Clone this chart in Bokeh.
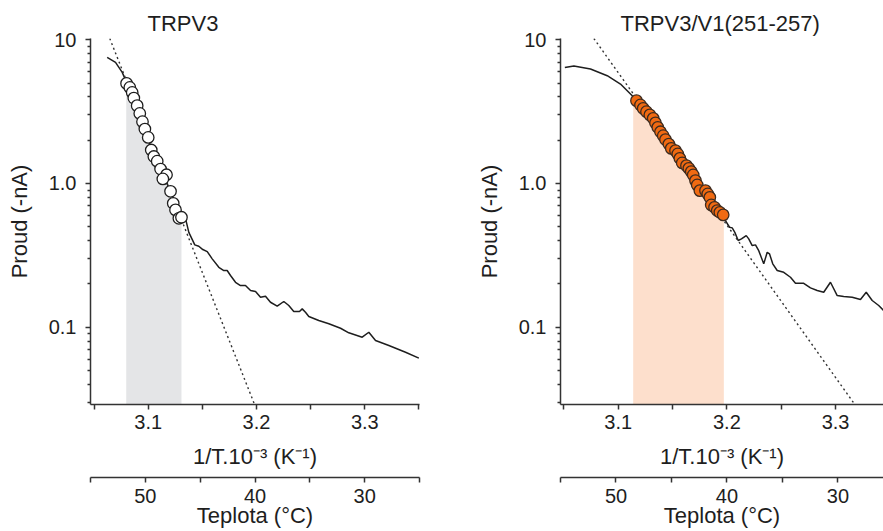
import numpy as np
from bokeh.plotting import figure
from bokeh.layouts import row
from bokeh.models import Range1d, LinearAxis, FixedTicker, CustomJSTickFormatter
from bokeh.embed import file_html
from bokeh.resources import INLINE

# ---------------- data ----------------
titles = ["TRPV3", "TRPV3/V1(251-257)"]
x_label = "1/T.10\u207b\u00b3 (K\u207b\u00b9)"
t_label = "Teplota (\u00b0C)"
y_label = "Proud (-nA)"

x_ticks = [3.1, 3.2, 3.3]
x_minor = [3.05, 3.15, 3.25, 3.35]
y_ticks = [0.1, 1.0, 10.0]
y_minor = [0.03, 0.04, 0.05, 0.06, 0.07, 0.08, 0.09,
           0.2, 0.3, 0.4, 0.5, 0.6, 0.7, 0.8, 0.9,
           2, 3, 4, 5, 6, 7, 8, 9]
t_ticks = [50, 40, 30]
t_minor = [55, 45, 35, 25]

# TRPV3 (left)
v3_trace_x = [3.0621, 3.0698, 3.0760, 3.0800, 3.0837, 3.0929, 3.1021, 3.1114, 3.1206, 3.1298,
              3.1338, 3.1375, 3.1430, 3.1467, 3.1504, 3.1545, 3.1591, 3.1652, 3.1698, 3.1729,
              3.1760, 3.1806, 3.1852, 3.1898, 3.1945, 3.1991, 3.2037, 3.2083, 3.2129, 3.2191,
              3.2252, 3.2298, 3.2344, 3.2397, 3.2422, 3.2452, 3.2483, 3.2575, 3.2668, 3.2776,
              3.2852, 3.2976, 3.3037, 3.3099, 3.3222, 3.3376, 3.3499]
v3_trace_y = [7.53, 6.95, 5.93, 5.05, 4.56, 3.06, 1.80, 1.27, 0.878, 0.579,
              0.598, 0.457, 0.374, 0.366, 0.347, 0.336, 0.299, 0.261, 0.248, 0.248,
              0.229, 0.2055, 0.195, 0.195, 0.1799, 0.177, 0.1616, 0.1642, 0.1492, 0.140,
              0.151, 0.1416, 0.1285, 0.1285, 0.1342, 0.1271, 0.1187, 0.1113, 0.1056, 0.0984,
              0.0914, 0.0852, 0.0923, 0.0808, 0.0746, 0.0670, 0.0609]
v3_pts_x = [3.0800, 3.0830, 3.0852, 3.0867, 3.0898, 3.0922, 3.0947, 3.0969, 3.1000, 3.1028,
            3.1052, 3.1083, 3.1114, 3.1169, 3.1135, 3.1206, 3.1231, 3.1252, 3.1283, 3.1307]
v3_pts_y = [4.97, 4.66, 4.30, 3.93, 3.48, 3.07, 2.69, 2.39, 2.09, 1.71,
            1.54, 1.43, 1.26, 1.15, 1.076, 0.882, 0.728, 0.655, 0.572, 0.582]
v3_fit_x = [3.0645, 3.1982]
v3_fit_y = [10.2, 0.029]
v3_shade = [3.0797, 3.1307]

# TRPV3/V1(251-257) (right)
ch_trace_x = [3.0509, 3.0592, 3.0745, 3.0899, 3.1021, 3.1129, 3.1297, 3.1481, 3.1665, 3.1849,
              3.1957, 3.1987, 3.2024, 3.2049, 3.2073, 3.2104, 3.2134, 3.2178, 3.2201, 3.2233,
              3.2263, 3.2293, 3.2339, 3.2371, 3.2392, 3.2422, 3.2463, 3.2523, 3.2585, 3.2631,
              3.2707, 3.2769, 3.2831, 3.2891, 3.2953, 3.3015, 3.3075, 3.3153, 3.3229, 3.3282,
              3.3337, 3.3397, 3.3443]
ch_trace_y = [6.42, 6.57, 6.26, 5.62, 4.92, 4.08, 3.01, 1.776, 1.209, 0.724,
              0.598, 0.552, 0.496, 0.491, 0.457, 0.401, 0.412, 0.434, 0.412, 0.370,
              0.374, 0.341, 0.276, 0.332, 0.324, 0.276, 0.248, 0.241, 0.2227, 0.2022,
              0.2022, 0.1879, 0.1799, 0.1751, 0.2055, 0.1661, 0.1634, 0.1616, 0.1558, 0.1751,
              0.1534, 0.1416, 0.1306]
ch_pts_x = [3.1168, 3.1205, 3.1230, 3.1260, 3.1291, 3.1322, 3.1343, 3.1364, 3.1389, 3.1414,
            3.1435, 3.1466, 3.1488, 3.1527, 3.1548, 3.1567, 3.1589, 3.1628, 3.1650, 3.1672,
            3.1690, 3.1711, 3.1727, 3.1751, 3.1803, 3.1824, 3.1843, 3.1856, 3.1886, 3.1911,
            3.1935, 3.1966]
ch_pts_y = [3.77, 3.52, 3.33, 3.16, 3.00, 2.84, 2.64, 2.46, 2.29, 2.15,
            2.02, 1.88, 1.755, 1.692, 1.605, 1.496, 1.39, 1.331, 1.274, 1.209,
            1.147, 1.047, 0.977, 0.892, 0.892, 0.846, 0.801, 0.709, 0.683, 0.648,
            0.630, 0.605]
ch_fit_x = [3.0776, 3.3177]
ch_fit_y = [10.2, 0.029]
ch_shade = [3.1138, 3.1972]

Y_MIN, Y_MAX = 0.029, 10.2
FONT = "Liberation Sans"
TXT = "#1e1e1e"
AX = "#333333"


def style_axis(ax, tick_out, minor_out):
    ax.axis_line_color = AX
    ax.axis_line_width = 1.5
    ax.major_tick_line_color = AX
    ax.minor_tick_line_color = AX
    ax.major_tick_line_width = 1.5
    ax.minor_tick_line_width = 1.5
    ax.major_tick_in = 0
    ax.minor_tick_in = 0
    ax.major_tick_out = tick_out
    ax.minor_tick_out = minor_out
    ax.major_label_text_font = FONT
    ax.major_label_text_font_size = "20px"
    ax.major_label_text_color = TXT
    ax.axis_label_text_font = FONT
    ax.axis_label_text_font_size = "22px"
    ax.axis_label_text_font_style = "normal"
    ax.axis_label_text_color = TXT


def panel(title, t_off, x_range, t_range, trace_x, trace_y, pts_x, pts_y, fit_x, fit_y,
          shade, shade_color, pt_fill, pt_line, b_left, f_width, b_right):
    p = figure(x_range=Range1d(*x_range), y_range=Range1d(Y_MIN, Y_MAX), y_axis_type="log",
               frame_width=f_width, frame_height=366,
               min_border_left=b_left, min_border_right=b_right,
               min_border_top=38, min_border_bottom=127,
               output_backend="svg", toolbar_location=None, title=title)
    p.outline_line_color = None
    p.grid.visible = False
    p.background_fill_color = "white"
    p.border_fill_color = "white"

    p.title.align = "left"
    p.title.offset = t_off
    p.title.text_font = FONT
    p.title.text_font_size = "22px"
    p.title.text_font_style = "normal"
    p.title.text_color = TXT
    p.title.standoff = 6

    # shaded fit interval under the fitted points
    order = np.argsort(pts_x)
    sx = [shade[0]] + [pts_x[i] for i in order] + [shade[1]]
    sy = [pts_y[order[0]]] + [pts_y[i] for i in order] + [pts_y[order[-1]]]
    p.varea(x=sx, y1=[Y_MIN] * len(sx), y2=sy, fill_color=shade_color)

    p.line(trace_x, trace_y, line_color="#1e1e1e", line_width=1.5)
    p.line(fit_x, fit_y, line_color="#333333", line_width=1.4, line_dash="2 3")
    p.scatter(pts_x, pts_y, size=11.5, fill_color=pt_fill, line_color=pt_line, line_width=1.3)

    xa = p.xaxis[0]
    xa.ticker = FixedTicker(ticks=x_ticks, minor_ticks=x_minor)
    xa.axis_label = x_label
    style_axis(xa, 5, 5)
    xa.major_label_standoff = 5
    xa.axis_label_standoff = 12

    ya = p.yaxis[0]
    ya.ticker = FixedTicker(ticks=y_ticks, minor_ticks=y_minor)
    ya.formatter = CustomJSTickFormatter(code="return tick >= 10 ? tick.toFixed(0) : tick.toFixed(1);")
    ya.axis_label = y_label
    style_axis(ya, 5, 3)
    ya.major_label_standoff = 9
    ya.axis_label_standoff = 14

    p.extra_x_ranges = {"temp": Range1d(*t_range)}

    # invisible spacer axis between the two scales
    gap = LinearAxis(x_range_name="temp", ticker=FixedTicker(ticks=[t_ticks[1]], minor_ticks=[]),
                     formatter=CustomJSTickFormatter(code="return ' ';"),
                     axis_line_color=None, major_tick_line_color=None, minor_tick_line_color=None,
                     major_tick_out=2, minor_tick_out=0, major_tick_in=0, minor_tick_in=0,
                     major_label_standoff=0, major_label_text_font_size="1px")
    p.add_layout(gap, "below")

    ta = LinearAxis(x_range_name="temp", ticker=FixedTicker(ticks=t_ticks, minor_ticks=t_minor),
                    axis_label=t_label)
    style_axis(ta, 5, 5)
    ta.major_label_standoff = 6
    ta.axis_label_standoff = -3
    p.add_layout(ta, "below")
    return p


left = panel(titles[0], 57, (3.0467, 3.3505), (55, 25), v3_trace_x, v3_trace_y, v3_pts_x, v3_pts_y,
             v3_fit_x, v3_fit_y, v3_shade, "#e4e5e7", "white", "#1e1e1e", 90, 329, 22)
right = panel(titles[1], 60, (3.0469, 3.3441), (55, 25.9), ch_trace_x, ch_trace_y, ch_pts_x, ch_pts_y,
              ch_fit_x, ch_fit_y, ch_shade, "#fddfcc", "#f06a12", "#3d2b1f", 119, 323, 0)

layout = row(left, right)
open("out.html", "w").write(file_html(layout, INLINE))
